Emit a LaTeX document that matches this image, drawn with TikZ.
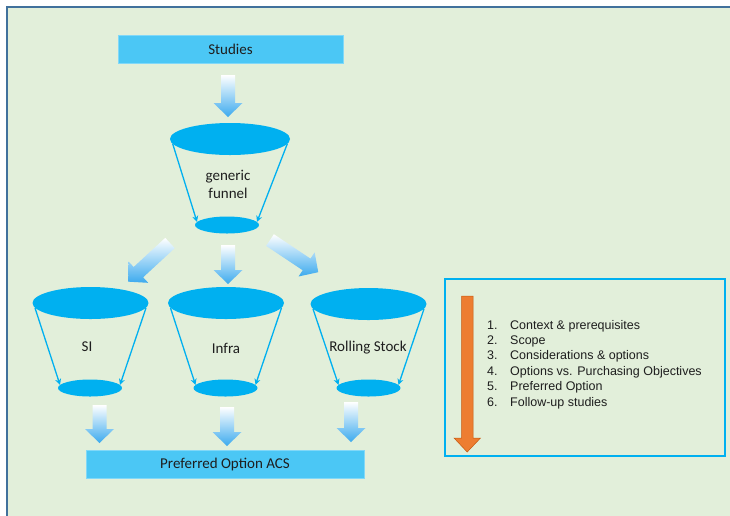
\documentclass[tikz,border=0pt]{standalone}
\usepackage{fontspec}
\setmainfont{Carlito}
\newfontfamily\arialf{Liberation Sans}
\usetikzlibrary{shapes.geometric,arrows.meta}
\definecolor{bg}{RGB}{226,239,218}
\definecolor{frame}{RGB}{65,113,156}
\definecolor{boxblue}{RGB}{75,199,245}
\definecolor{funblue}{RGB}{0,176,240}
\definecolor{arrblue}{RGB}{60,170,238}
\definecolor{orng}{RGB}{237,125,49}
\definecolor{orngdark}{RGB}{197,90,17}
\definecolor{txt}{RGB}{30,30,30}
\newcommand\blockarr[4]{%
  \begin{scope}[shift={(#1,#2)}, rotate=#3]
    \shade[top color=white, bottom color=arrblue]
      (-7,0) -- (7,0) -- (7,#4-14) -- (14.5,#4-14) -- (0,#4) -- (-14.5,#4-14) -- (-7,#4-14) -- cycle;
  \end{scope}}
\begin{document}
\begin{tikzpicture}[x=1pt,y=-1pt,
  bar/.style={fill=boxblue, draw=boxblue!70!white, line width=0.6pt, minimum height=28pt, inner sep=0pt, font=\fontsize{15}{18}\selectfont, text=txt},
  topell/.style={ellipse, fill=funblue, minimum width=116pt, minimum height=32pt, inner sep=0pt},
  botell/.style={ellipse, fill=funblue, minimum width=64pt, minimum height=17pt, inner sep=0pt},
  funline/.style={draw=funblue, line width=1.3pt, -{Stealth[length=6pt,width=6pt]}},
  flabel/.style={font=\fontsize{15}{18}\selectfont, text=txt, align=center, inner sep=0pt},
  listitem/.style={font=\arialf\fontsize{12.5}{15}\selectfont, anchor=base west, text=txt, inner sep=0pt},
]
\useasboundingbox (0,0) rectangle (730,515);
\fill[white] (0,0) rectangle (730,515);
\fill[bg] (7,7) rectangle (731,516);
\draw[frame, line width=1.2pt] (7,516) -- (7,7) -- (731,7);

% bars
\node[bar, minimum width=225pt] (studies) at (230.5,49) {Studies};
\node[bar, minimum width=278pt] (acs) at (225,464) {Preferred Option ACS};

% generic funnel
\node[topell, minimum width=120pt] (gtop) at (230,139) {};
\node[botell] (gbot) at (227,225) {};
\draw[funline] (gtop.185) -- (gbot.174);
\draw[funline] (gtop.-5) -- (gbot.6);
\node[flabel] (glab) at (228,184) {generic\\funnel};

% SI funnel
\node[topell] (stop) at (90.5,303) {};
\node[botell] (sbot) at (90,388) {};
\draw[funline] (stop.185) -- (sbot.174);
\draw[funline] (stop.-5) -- (sbot.6);
\node[flabel] (slab) at (87,347) {SI};

% Infra funnel
\node[topell] (itop) at (226,303) {};
\node[botell] (ibot) at (225.5,388) {};
\draw[funline] (itop.185) -- (ibot.174);
\draw[funline] (itop.-5) -- (ibot.6);
\node[flabel] (ilab) at (226,348) {Infra};

% Rolling stock funnel
\node[topell] (rtop) at (368.5,304) {};
\node[botell] (rbot) at (368.5,388) {};
\draw[funline] (rtop.185) -- (rbot.174);
\draw[funline] (rtop.-5) -- (rbot.6);
\node[flabel] (rlab) at (368,348) {Rolling Stock};

% block arrows
\blockarr{228}{75}{0}{42}
\blockarr{170}{243}{-47.3}{57}
\blockarr{228}{245}{0}{39}
\blockarr{270}{240}{56.3}{58}
\blockarr{99.5}{405}{0}{38}
\blockarr{227}{407}{0}{39}
\blockarr{351}{402}{0}{40}

% right box
\draw[funblue, line width=2.5pt] (445,279) rectangle (725,456);
\draw[orngdark, fill=orng, line width=0.5pt]
  (461.5,296) -- (473,296) -- (473,438) -- (480.5,438) -- (467.2,452) -- (454,438) -- (461.5,438) -- cycle;
\foreach \i/\t in {1/Context \& prerequisites, 2/Scope, 3/Considerations \& options,
  4/Options vs. Purchasing Objectives, 5/Preferred Option, 6/Follow-up studies}{
  \node[listitem] (n\i) at (487,{329+15.4*(\i-1)}) {\i.};
  \node[listitem] (t\i) at (510,{329+15.4*(\i-1)}) {\t};
}
\end{tikzpicture}
\end{document}
